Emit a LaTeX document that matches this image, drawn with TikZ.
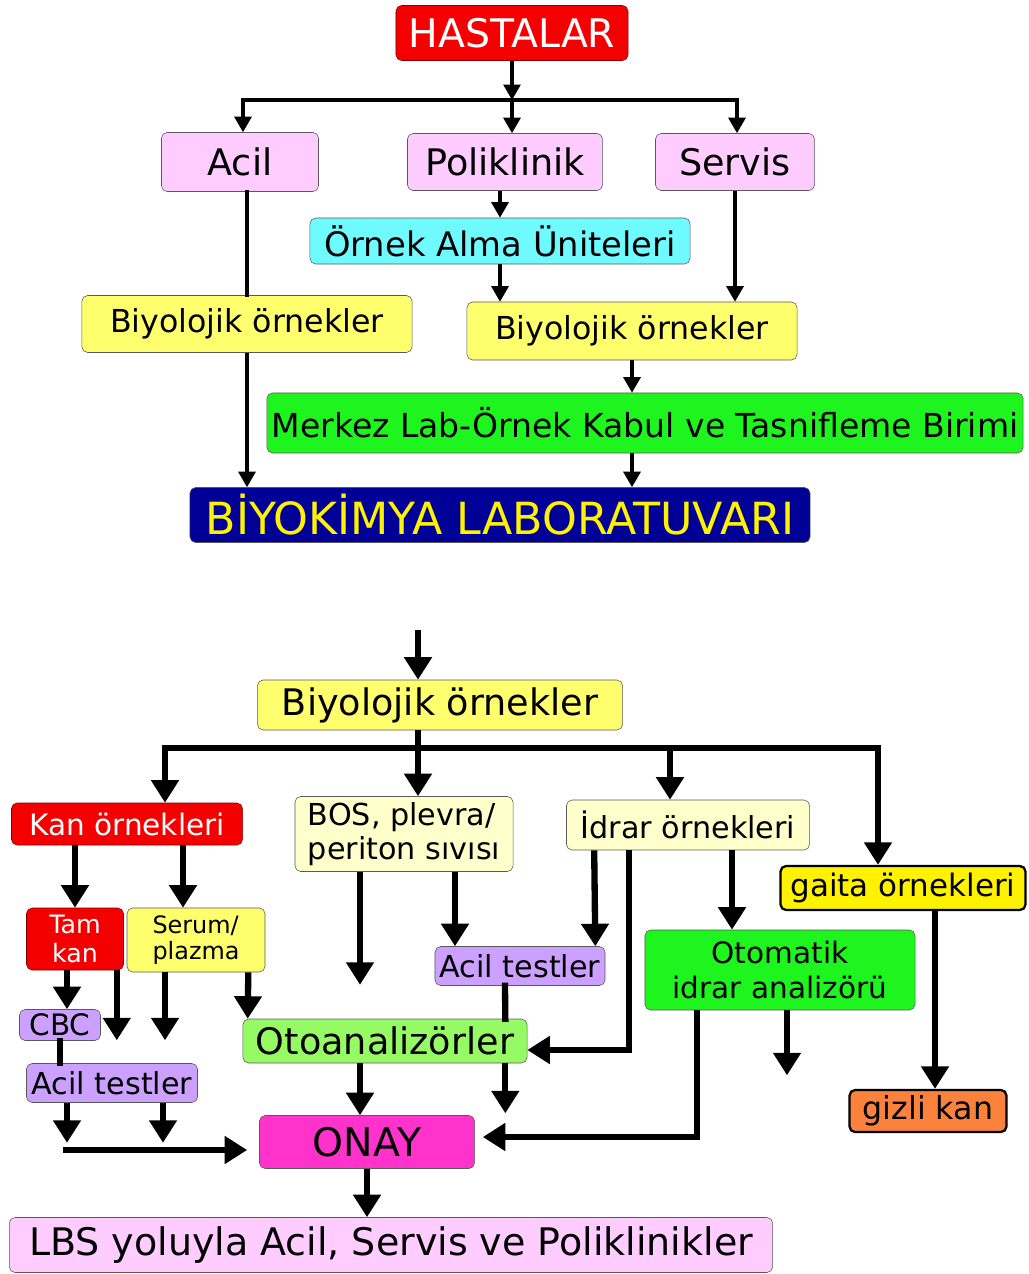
\documentclass[tikz,border=0pt]{standalone}
\usepackage{fontspec}
\setmainfont{DejaVu Sans}
\usetikzlibrary{positioning,arrows.meta,calc}

\definecolor{hastared}{RGB}{245,0,0}
\definecolor{pinkfill}{RGB}{255,204,255}
\definecolor{cyanfill}{RGB}{110,250,255}
\definecolor{yellowfill}{RGB}{255,255,110}
\definecolor{greenfill}{RGB}{30,245,30}
\definecolor{navyfill}{RGB}{0,0,150}
\definecolor{beigefill}{RGB}{255,255,204}
\definecolor{lavfill}{RGB}{204,160,255}
\definecolor{lgreenfill}{RGB}{150,250,100}
\definecolor{magfill}{RGB}{255,51,204}
\definecolor{orangefill}{RGB}{250,130,60}

\begin{document}
\begin{tikzpicture}[x=0.025cm, y=-0.025cm,
		box/.style={rectangle, rounded corners=4pt, draw=black!65, thin, inner sep=0pt, align=center},
		redbox/.style={box, fill=hastared, draw=red!50!black, text=white},
		pinkbox/.style={box, fill=pinkfill},
		cyanbox/.style={box, fill=cyanfill},
		yellowbox/.style={box, fill=yellowfill},
		greenbox/.style={box, fill=greenfill},
		navybox/.style={box, fill=navyfill, text=yellow},
		beigebox/.style={box, fill=beigefill},
		lavbox/.style={box, fill=lavfill},
		lgreenbox/.style={box, fill=lgreenfill},
		magbox/.style={box, fill=magfill},
		boldbox/.style={box, draw=black, line width=1.6pt},
		thinline/.style={line width=2.3pt, line cap=rect},
		thinarrow/.style={-{Triangle[length=11pt,width=12pt]}, line width=2.3pt},
		thickline/.style={line width=4.5pt, line cap=rect},
		thickarrow/.style={-{Triangle[length=16pt,width=19pt]}, line width=4.5pt},
		]
		\useasboundingbox (0,0) rectangle (1028,1274);

		%Top Nodes
		\node[redbox, minimum width=5.8cm, minimum height=1.375cm, font=\fontsize{28}{31}\selectfont]	(hastalar)	at (512,33)		{HASTALAR};
		\node[pinkbox, minimum width=3.925cm, minimum height=1.475cm, font=\fontsize{26}{29}\selectfont]	(acil)		at (240,162)	{Acil};
		\node[pinkbox, minimum width=4.875cm, minimum height=1.425cm, font=\fontsize{26}{29}\selectfont]	(poli)		at (505,162)	{Poliklinik};
		\node[pinkbox, minimum width=3.975cm, minimum height=1.425cm, font=\fontsize{26}{29}\selectfont]	(servis)	at (735,162)	{Servis};
		\node[cyanbox, minimum width=9.5cm, minimum height=1.15cm, font=\fontsize{24}{27}\selectfont]	(ornek)		at (500,241)	{Örnek Alma Üniteleri};
		\node[yellowbox, minimum width=8.25cm, minimum height=1.425cm, font=\fontsize{22.5}{25}\selectfont]	(bio_acil)	at (247,324)	{Biyolojik örnekler};
		\node[yellowbox, minimum width=8.25cm, minimum height=1.45cm, font=\fontsize{22.5}{25}\selectfont]	(bio_poli)	at (632,331)	{Biyolojik örnekler};
		\node[greenbox, minimum width=18.9cm, minimum height=1.5cm, font=\fontsize{23.5}{26}\selectfont]	(merkez)	at (645,423)	{Merkez Lab-Örnek Kabul ve Tasnifleme Birimi};
		\node[navybox, minimum width=15.5cm, minimum height=1.375cm, font=\fontsize{31.5}{34}\selectfont]	(biyokimya)	at (500,515)	{BİYOKİMYA LABORATUVARI};

		%Top Lines
		\coordinate (bar_top_l) at (243,100);
		\coordinate (bar_top_r) at (737,100);
		\draw[thinarrow]	(hastalar.south)	--	(hastalar.south |- bar_top_l);
		\draw[thinline]		(bar_top_l)			--	(bar_top_r);
		\draw[thinarrow]	(bar_top_l)			--	(bar_top_l |- acil.north);
		\draw[thinarrow]	(hastalar.south |- bar_top_l)	--	(hastalar.south |- poli.north);
		\draw[thinarrow]	(bar_top_r)			--	(bar_top_r |- servis.north);
		\draw[thinarrow]	(ornek.north |- poli.south)	--	(ornek.north);
		\draw[thinline]		(bio_acil.north |- acil.south)	--	(bio_acil.north);
		\draw[thinarrow]	(bio_acil.south)	--	(bio_acil.south |- biyokimya.north);
		\draw[thinarrow]	(servis.south)		--	(servis.south |- bio_poli.north);
		\draw[thinarrow]	(ornek.south)		--	(ornek.south |- bio_poli.north);
		\draw[thinarrow]	(bio_poli.south)	--	(bio_poli.south |- merkez.north);
		\draw[thinarrow]	(bio_poli.south |- merkez.south)	--	(bio_poli.south |- biyokimya.north);

		%Bottom Nodes
		\node[yellowbox, minimum width=9.125cm, minimum height=1.25cm, font=\fontsize{26}{29}\selectfont]	(bio_all)	at (440,705)	{Biyolojik örnekler};
		\node[redbox, minimum width=5.775cm, minimum height=1.05cm, font=\fontsize{21}{24}\selectfont]	(kan)		at (127,824)	{Kan örnekleri};
		\node[beigebox, minimum width=5.45cm, minimum height=1.875cm, font=\fontsize{21.5}{24}\selectfont, align=left]	(bos)	at (404,834)	{BOS, plevra/\\periton sıvısı};
		\node[beigebox, minimum width=6.075cm, minimum height=1.25cm, font=\fontsize{21.5}{24}\selectfont]	(idrar)		at (688,825)	{İdrar örnekleri};
		\node[yellowbox, boldbox, fill=yellow, minimum width=6.125cm, minimum height=1.1cm, font=\fontsize{22}{25}\selectfont]	(gaita)	at (903,888)	{gaita örnekleri};
		\node[redbox, minimum width=2.425cm, minimum height=1.55cm, font=\fontsize{18}{20}\selectfont]	(tam)		at (75,939)		{Tam\\kan};
		\node[yellowbox, minimum width=3.45cm, minimum height=1.6cm, font=\fontsize{17}{19}\selectfont, align=left]	(serum)	at (196,940)	{Serum/\\plazma};
		\node[lavbox, minimum width=2.025cm, minimum height=0.775cm, font=\fontsize{21}{23}\selectfont]	(cbc)		at (60,1025)	{CBC};
		\node[lavbox, minimum width=4.275cm, minimum height=0.975cm, font=\fontsize{21.5}{24}\selectfont]	(acil_kan)	at (112,1083)	{Acil testler};
		\node[lavbox, minimum width=4.25cm, minimum height=0.975cm, font=\fontsize{21.5}{24}\selectfont]	(acil_bos)	at (520,966)	{Acil testler};
		\node[lgreenbox, minimum width=7.1cm, minimum height=1.1cm, font=\fontsize{26}{29}\selectfont]	(oto)		at (385,1041)	{Otoanalizörler};
		\node[greenbox, minimum width=6.75cm, minimum height=2cm, font=\fontsize{21}{25}\selectfont]	(otomatik)	at (780,970)	{Otomatik\\idrar analizörü};
		\node[boldbox, fill=orangefill, minimum width=3.925cm, minimum height=1.05cm, font=\fontsize{22.5}{25}\selectfont]	(gizli)	at (928,1111)	{gizli kan};
		\node[magbox, minimum width=5.375cm, minimum height=1.325cm, font=\fontsize{28}{31}\selectfont]	(onay)		at (367,1142)	{ONAY};
		\node[pinkbox, minimum width=19.075cm, minimum height=1.375cm, font=\fontsize{27}{30}\selectfont]	(lbs)		at (391,1245)	{LBS yoluyla Acil, Servis ve Poliklinikler};

		%Bottom Lines
		\coordinate (bio_in) at (418,630);
		\coordinate (bar_bot_l) at (165,748);
		\coordinate (bar_bot_r) at (878,748);
		\coordinate (onay_in) at (63,1150);
		\draw[thickarrow]	(bio_in)	--	(bio_in |- bio_all.north);
		\draw[thickline]	(bar_bot_l)	--	(bar_bot_r);
		\draw[thickarrow]	(bio_in |- bio_all.south)	--	(bio_in |- bos.north);
		\draw[thickarrow]	(bar_bot_l)	--	(bar_bot_l |- kan.north);
		\draw[thickarrow]	($(idrar.north |- bar_bot_l)+(-18,0)$)	--	($(idrar.north)+(-18,0)$);
		\draw[thickarrow]	(bar_bot_r)	--	(bar_bot_r |- gaita.north);

		%Kan
		\draw[thickarrow]	(tam.north |- kan.south)	--	(tam.north);
		\draw[thickarrow]	($(serum.north |- kan.south)+(-13,0)$)	--	($(serum.north)+(-13,0)$);
		\draw[thickarrow]	($(tam.south)+(-8,0)$)	--	($(cbc.north)+(7,0)$);
		\draw[thickarrow]	($(tam.south east)+(-7,0)$)	--	++(0,70);
		\draw[thickarrow]	($(serum.south)+(-31,0)$)	--	++(0,68);
		\draw[thickarrow]	($(serum.south east)+(-17,0)$)	--	($(oto.north west)+(5,0)$);
		\draw[thickline]	(cbc.south)	--	(cbc.south |- acil_kan.north);
		\draw[thickarrow]	($(acil_kan.south)+(-45,0)$)	--	++(0,40);
		\draw[thickarrow]	($(acil_kan.south)+(51,0)$)	--	++(0,40);
		\draw[thickarrow]	(onay_in)	--	($(onay_in -| onay.west)+(-12,0)$);

		%BOS
		\draw[thickarrow]	($(bos.south)+(-44,0)$)	--	++(0,113);
		\draw[thickarrow]	($(bos.south)+(51,0)$)	--	($(acil_bos.north)+(-65,0)$);
		\draw[thickline]	($(acil_bos.south)+(-15,0)$)	--	($(oto.north east)+(-22,0)$);
		\draw[thickarrow]	($(oto.south east)+(-22,0)$)	--	++(0,50);
		\draw[thickarrow]	($(oto.south)+(-25,0)$)	--	($(onay.north)+(-7,0)$);

		%Idrar
		\draw[thickarrow]	($(idrar.south west)+(28,0)$)	--	($(acil_bos.north east)+(-10,0)$);
		\draw[thickarrow]	($(idrar.south west)+(63,0)$)	|-	($(oto.east)+(0,9)$);
		\draw[thickarrow]	($(idrar.south)+(44,0)$)	--	($(otomatik.north)+(-48,0)$);
		\draw[thickarrow]	($(otomatik.south west)+(52,0)$)	|-	($(onay.east)+(8,-5)$);
		\draw[thickarrow]	($(otomatik.south)+(7,0)$)	--	++(0,65);

		%Gaita
		\draw[thickarrow]	($(gaita.south)+(32,0)$)	--	($(gizli.north)+(7,0)$);

		%Onay
		\draw[thickarrow]	(onay.south)	--	(onay.south |- lbs.north);

	\end{tikzpicture}
\end{document}
